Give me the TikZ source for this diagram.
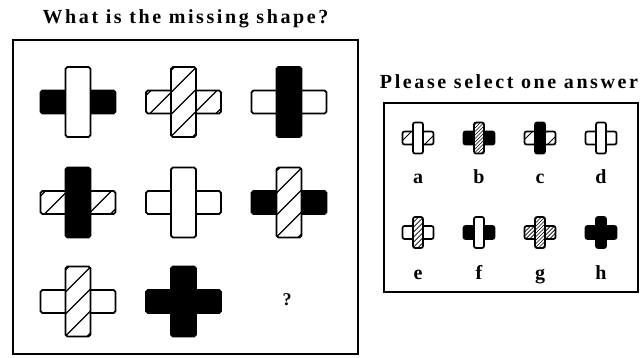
\documentclass[tikz,border=0pt]{standalone}
\usepackage{fontspec}
\setmainfont{Liberation Serif}
\usepackage{tikz}
\usetikzlibrary{positioning}
\tikzset{
	frame/.style={draw, line width=1.6pt, inner sep=0pt},
	bar/.style={draw, line width=1.8pt, rounded corners=1.8pt, inner sep=0pt, fill=white},
	hb/.style={bar, minimum width=75pt, minimum height=23pt},
	vb/.style={bar, minimum width=25pt, minimum height=70pt},
	shb/.style={bar, line width=1.7pt, rounded corners=2pt, minimum width=31pt, minimum height=13pt},
	svb/.style={bar, line width=1.7pt, rounded corners=2pt, minimum width=10pt, minimum height=31pt},
	blk/.style={fill=black},
	hat/.style 2 args={fill=white, path picture={
		\foreach \k in {-14,...,14}
			\draw[line width=#2] ([xshift=\k*#1-60pt, yshift=-60pt]path picture bounding box.center) -- ++(120pt,120pt);}},
	ttl/.style={anchor=base, inner sep=0pt, font=\bfseries\fontsize{20}{22}\selectfont\addfontfeature{LetterSpace=13}},
	lbl/.style={anchor=base, inner sep=0pt, font=\bfseries\fontsize{20}{22}\selectfont},
}
\begin{document}
\begin{tikzpicture}[x=1pt, y=-1pt]
	\useasboundingbox (0,0) rectangle (642,358);
	\node[ttl] at (185.5,24) (title) {What is the missing shape?};
	\node[ttl] at (509,89) (ask) {Please select one answer};
	\node[frame, minimum width=345pt, minimum height=314pt] at (185.5,197) (grid) {};
	\node[frame, minimum width=254pt, minimum height=189pt] at (511,197.5) (answers) {};
	% puzzle crosses: horizontal bar first, vertical bar on top
	\node[hb, blk] at (78,102) (p11h) {};
	\node[vb] at (78,102) (p11v) {};
	\node[hb, hat={22pt}{1.2pt}] at (183.5,102) (p12h) {};
	\node[vb, hat={22pt}{1.2pt}] at (183.5,102) (p12v) {};
	\node[hb] at (289,102) (p13h) {};
	\node[vb, blk] at (289,102) (p13v) {};
	\node[hb, hat={22pt}{1.2pt}] at (78,202.5) (p21h) {};
	\node[vb, blk] at (78,202.5) (p21v) {};
	\node[hb] at (183.5,202.5) (p22h) {};
	\node[vb] at (183.5,202.5) (p22v) {};
	\node[hb, blk] at (289,202.5) (p23h) {};
	\node[vb, hat={22pt}{1.2pt}] at (289,202.5) (p23v) {};
	\node[hb] at (78,301.5) (p31h) {};
	\node[vb, hat={22pt}{1.2pt}] at (78,301.5) (p31v) {};
	\node[hb, blk] at (183.5,301.5) (p32h) {};
	\node[vb, blk] at (183.5,301.5) (p32v) {};
	\node[font=\bfseries\fontsize{18}{20}\selectfont] at (287,300) (miss) {?};
	% answer crosses
	\node[shb, hat={13pt}{0.9pt}] at (418,138) (aah) {};
	\node[svb] at (418,138) (aav) {};
	\node[shb, blk] at (479,138) (abh) {};
	\node[svb, hat={3.5pt}{0.6pt}] at (479,138) (abv) {};
	\node[shb, hat={14pt}{0.9pt}] at (540,138) (ach) {};
	\node[svb, blk] at (540,138) (acv) {};
	\node[shb] at (601,138) (adh) {};
	\node[svb] at (601,138) (adv) {};
	\node[shb] at (418,232.5) (aeh) {};
	\node[svb, hat={5pt}{0.7pt}] at (418,232.5) (aev) {};
	\node[shb, blk] at (479,232.5) (afh) {};
	\node[svb] at (479,232.5) (afv) {};
	\node[shb, hat={4pt}{0.7pt}] at (540,232.5) (agh) {};
	\node[svb, hat={3.5pt}{0.6pt}] at (540,232.5) (agv) {};
	\node[shb, blk] at (601,232.5) (ahh) {};
	\node[svb, blk] at (601,232.5) (ahv) {};
	% letters
	\node[lbl] at (418,183) (la) {a};
	\node[lbl] at (479,183) (lb) {b};
	\node[lbl] at (540,183) (lc) {c};
	\node[lbl] at (601,183) (ld) {d};
	\node[lbl] at (418,279) (le) {e};
	\node[lbl] at (479,279) (lf) {f};
	\node[lbl] at (540,279) (lg) {g};
	\node[lbl] at (601,279) (lh) {h};
\end{tikzpicture}
\end{document}
